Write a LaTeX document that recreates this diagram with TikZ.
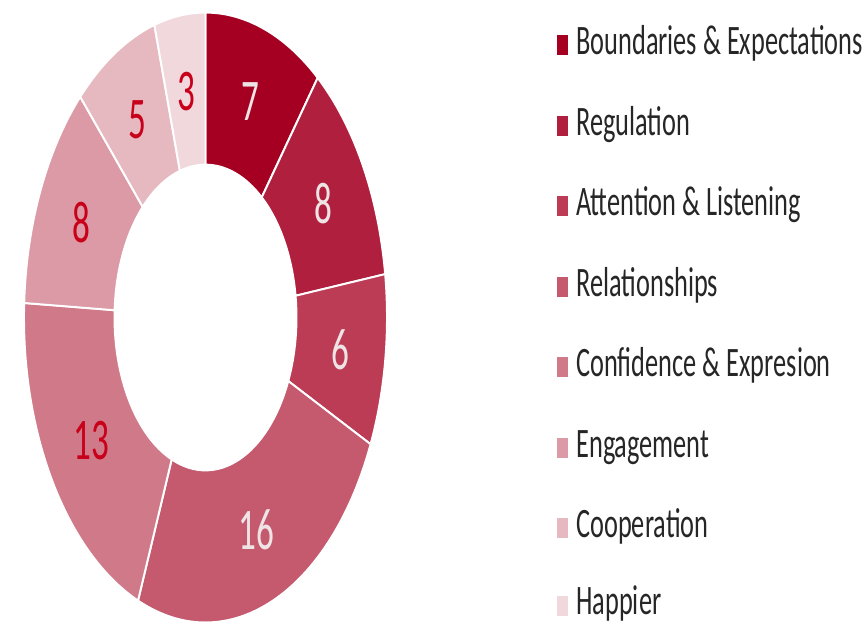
\documentclass[tikz,border=0pt]{standalone}
\usepackage{fontspec}
\setmainfont{Carlito}
\usepackage{graphicx,tikz}

\definecolor{boundC}{HTML}{A50021}
\definecolor{reguC}{HTML}{B01F3D}
\definecolor{attC}{HTML}{BC3B55}
\definecolor{relC}{HTML}{C55A6F}
\definecolor{confC}{HTML}{D07A89}
\definecolor{engC}{HTML}{DB9AA5}
\definecolor{coopC}{HTML}{E6B9C1}
\definecolor{happC}{HTML}{F1D8DD}
\definecolor{numlight}{HTML}{EEE4E6}
\definecolor{numred}{HTML}{C8001A}

% stretch text upright, as the chart is
\newcommand{\tall}[1]{\scalebox{1}[1.68]{#1}}
\newcommand{\tallkey}[1]{\scalebox{1.055}[1.68]{#1}}

\begin{document}
\begin{tikzpicture}[x=0.02cm,y=-0.02cm,
	slice/.style={draw=white,line width=1.1pt},
	num/.style={font=\fontsize{20}{20}\selectfont,inner sep=0pt},
	swatch/.style={minimum width=0.22cm,minimum height=0.4cm,inner sep=0pt},
	key/.style={anchor=base west,font=\fontsize{14.2}{14}\selectfont,text=black!85,inner sep=0pt}]

	\useasboundingbox (0,0) rectangle (866,623);

	% Draw the ring
	\begin{scope}[shift={(205.5,317.5)},yscale=-1.68]
	\fill[slice,fill=boundC] (90:181.5) arc[start angle=90,end angle=51.82,radius=181.5] -- (51.82:91) arc[start angle=51.82,end angle=90,radius=91] -- cycle;
	\fill[slice,fill=reguC] (51.82:181.5) arc[start angle=51.82,end angle=8.18,radius=181.5] -- (8.18:91) arc[start angle=8.18,end angle=51.82,radius=91] -- cycle;
	\fill[slice,fill=attC] (8.18:181.5) arc[start angle=8.18,end angle=-24.55,radius=181.5] -- (-24.55:91) arc[start angle=-24.55,end angle=8.18,radius=91] -- cycle;
	\fill[slice,fill=relC] (-24.55:181.5) arc[start angle=-24.55,end angle=-111.82,radius=181.5] -- (-111.82:91) arc[start angle=-111.82,end angle=-24.55,radius=91] -- cycle;
	\fill[slice,fill=confC] (-111.82:181.5) arc[start angle=-111.82,end angle=-182.73,radius=181.5] -- (-182.73:91) arc[start angle=-182.73,end angle=-111.82,radius=91] -- cycle;
	\fill[slice,fill=engC] (-182.73:181.5) arc[start angle=-182.73,end angle=-226.36,radius=181.5] -- (-226.36:91) arc[start angle=-226.36,end angle=-182.73,radius=91] -- cycle;
	\fill[slice,fill=coopC] (-226.36:181.5) arc[start angle=-226.36,end angle=-253.64,radius=181.5] -- (-253.64:91) arc[start angle=-253.64,end angle=-226.36,radius=91] -- cycle;
	\fill[slice,fill=happC] (-253.64:181.5) arc[start angle=-253.64,end angle=-270,radius=181.5] -- (-270:91) arc[start angle=-270,end angle=-253.64,radius=91] -- cycle;

	% values
	\node[num,text=numlight] (vBound) at (70.91:136) {\tall{7}};
	\node[num,text=numlight] (vRegu) at (30:136) {\tall{8}};
	\node[num,text=numlight] (vAtt) at (-8.18:136) {\tall{6}};
	\node[num,text=numlight] (vRel) at (-68.18:136) {\tall{16}};
	\node[num,text=numred] (vConf) at (-147.27:136) {\tall{13}};
	\node[num,text=numred] (vEng) at (-204.55:136) {\tall{8}};
	\node[num,text=numred] (vCoop) at (-240:136) {\tall{5}};
	\node[num,text=numred] (vHapp) at (-261.82:136) {\tall{3}};
	\end{scope}

	% Draw the legend
	\node[swatch,fill=boundC] (sBound) at (562.5,45) {};
	\node[swatch,fill=reguC] (sRegu) at (562.5,125.5) {};
	\node[swatch,fill=attC] (sAtt) at (562.5,206) {};
	\node[swatch,fill=relC] (sRel) at (562.5,286.5) {};
	\node[swatch,fill=confC] (sConf) at (562.5,367) {};
	\node[swatch,fill=engC] (sEng) at (562.5,447.5) {};
	\node[swatch,fill=coopC] (sCoop) at (562.5,528) {};
	\node[swatch,fill=happC] (sHapp) at (562.5,606) {};

	\node[key] (kBound) at (576,54.5) {\tallkey{Boundaries \& Expectations}};
	\node[key] (kRegu) at (576,135) {\tallkey{Regulation}};
	\node[key] (kAtt) at (576,215.5) {\tallkey{Attention \& Listening}};
	\node[key] (kRel) at (576,296) {\tallkey{Relationships}};
	\node[key] (kConf) at (576,376.5) {\tallkey{Confidence \& Expresion}};
	\node[key] (kEng) at (576,457) {\tallkey{Engagement}};
	\node[key] (kCoop) at (576,537.5) {\tallkey{Cooperation}};
	\node[key] (kHapp) at (576,614) {\tallkey{Happier}};
\end{tikzpicture}
\end{document}
